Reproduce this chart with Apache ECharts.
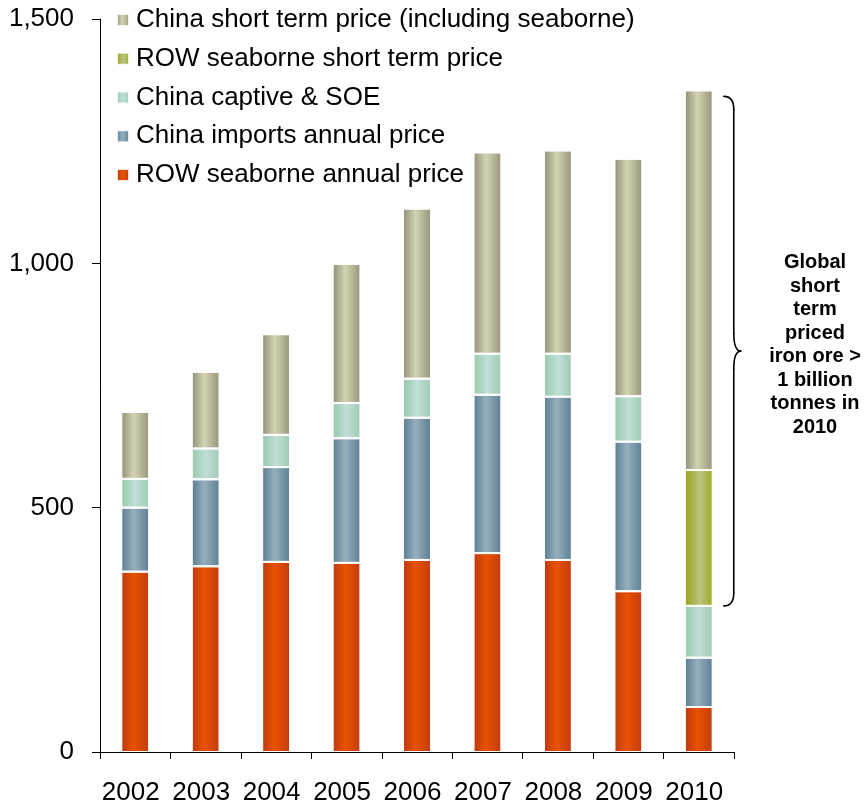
<!DOCTYPE html>
<html>
<head>
<meta charset="utf-8">
<style>
  html, body { margin: 0; padding: 0; background: #ffffff; }
  #chart { width: 865px; height: 806px; }
</style>
<script src="https://cdn.jsdelivr.net/npm/echarts@6/dist/echarts.min.js"></script>
</head>
<body>
<div id="chart"></div>
<script>
// Iron ore volumes by pricing mechanism (Mt)
const years = ['2002', '2003', '2004', '2005', '2006', '2007', '2008', '2009', '2010'];
const rowAnnual    = [369, 380, 389, 387, 393, 407, 393, 329, 92];
const chinaImports = [131, 178, 194, 255, 291, 324, 334, 306, 101];
const chinaCaptive = [59, 63, 66, 72, 80, 84, 88, 93, 106];
const rowShort     = [null, null, null, null, null, null, null, null, 278];
const chinaShort   = [137, 157, 206, 285, 348, 412, 416, 486, 777];
const yTicks = [0, 500, 1000, 1500];

const names = {
  rowAnnual: 'ROW seaborne annual price',
  chinaImports: 'China imports annual price',
  chinaCaptive: 'China captive & SOE',
  rowShort: 'ROW seaborne short term price',
  chinaShort: 'China short term price (including seaborne)'
};

const FONT = '"Liberation Sans", Arial, sans-serif';

// cylinder-like horizontal shading for each segment
function shade(edgeL, mid, edgeR, pos) {
  return new echarts.graphic.LinearGradient(0, 0, 1, 0, [
    { offset: 0, color: edgeL },
    { offset: pos, color: mid },
    { offset: 1, color: edgeR }
  ]);
}

const palette = {
  rowAnnual:    shade('#bd3912', '#e85200', '#c23b10', 0.45),
  chinaImports: shade('#5a7c92', '#96afbc', '#5d7e94', 0.45),
  chinaCaptive: shade('#97c9a8', '#c0dfd8', '#9ecbb2', 0.5),
  rowShort:     shade('#97a217', '#bac37f', '#a0a81f', 0.55),
  chinaShort:   shade('#919078', '#d3d2b1', '#96957c', 0.45)
};

function barSeries(key, data) {
  return {
    name: names[key],
    type: 'bar',
    stack: 'total',
    barWidth: 28,
    data: data,
    itemStyle: {
      color: palette[key],
      borderColor: 'rgba(255,255,255,0.85)',
      borderWidth: 1
    },
    emphasis: { disabled: true }
  };
}

const chart = echarts.init(document.getElementById('chart'), null, { renderer: 'canvas' });

chart.setOption({
  animation: false,
  backgroundColor: '#ffffff',
  textStyle: { fontFamily: FONT },
  grid: { left: 100, top: 19, width: 634, height: 734, containLabel: false },
  legend: {
    orient: 'vertical',
    left: 116,
    top: 7,
    padding: 0,
    itemWidth: 12,
    itemHeight: 12,
    itemGap: 12.75,
    icon: 'rect',
    selectedMode: false,
    textStyle: { fontFamily: FONT, fontSize: 26, lineHeight: 26, color: '#000', padding: [0, 0, 0, 2] },
    data: [names.chinaShort, names.rowShort, names.chinaCaptive, names.chinaImports, names.rowAnnual]
  },
  xAxis: {
    type: 'category',
    data: years,
    boundaryGap: true,
    axisLine: { lineStyle: { color: '#000', width: 1 } },
    axisTick: { show: true, length: 7, lineStyle: { color: '#000' } },
    axisLabel: {
      color: '#000', fontFamily: FONT, fontSize: 26, margin: 28,
      padding: [0, 9, 0, 0], interval: 0
    },
    splitLine: { show: false }
  },
  yAxis: {
    type: 'value',
    min: yTicks[0],
    max: yTicks[yTicks.length - 1],
    interval: yTicks[1] - yTicks[0],
    axisLine: { show: true, lineStyle: { color: '#000', width: 1 } },
    axisTick: { show: true, length: 8, lineStyle: { color: '#000' } },
    axisLabel: {
      color: '#000', fontFamily: FONT, fontSize: 26, margin: 26,
      formatter: v => v.toLocaleString('en-US')
    },
    splitLine: { show: false }
  },
  series: [
    barSeries('rowAnnual', rowAnnual),
    barSeries('chinaImports', chinaImports),
    barSeries('chinaCaptive', chinaCaptive),
    barSeries('rowShort', rowShort),
    barSeries('chinaShort', chinaShort)
  ]
});

// Brace spanning the short-term priced volume of the last year
const last = years.length - 1;
const baseLast = rowAnnual[last] + chinaImports[last] + chinaCaptive[last];
const totalLast = baseLast + (rowShort[last] || 0) + chinaShort[last];
const pTop = chart.convertToPixel({ gridIndex: 0 }, [years[last], totalLast]);
const pBot = chart.convertToPixel({ gridIndex: 0 }, [years[last], baseLast]);

const cx = pTop[0];
const hx = cx + 25, sx = cx + 35, tx = cx + 42;
const y0 = pTop[1] + 6, y1 = pBot[1], ym = (y0 + y1) / 2;
const rEnd = 13, rMid = 18;
const braceStyle = { fill: null, stroke: '#000', lineWidth: 1.6, lineCap: 'round' };

function quad(x1, y1q, cpx, cpy, x2, y2) {
  return { type: 'bezierCurve', silent: true, style: braceStyle,
           shape: { x1: x1, y1: y1q, cpx1: cpx, cpy1: cpy, x2: x2, y2: y2 } };
}
function seg(x1, y1s, x2, y2) {
  return { type: 'line', silent: true, style: braceStyle,
           shape: { x1: x1, y1: y1s, x2: x2, y2: y2 } };
}

chart.setOption({
  graphic: [
    {
      type: 'group',
      silent: true,
      children: [
        quad(hx, y0, sx, y0, sx, y0 + rEnd),
        seg(sx, y0 + rEnd, sx, ym - rMid),
        quad(sx, ym - rMid, sx, ym, tx, ym),
        quad(tx, ym, sx, ym, sx, ym + rMid),
        seg(sx, ym + rMid, sx, y1 - rEnd),
        quad(sx, y1 - rEnd, sx, y1, hx, y1)
      ]
    },
    {
      type: 'text',
      x: 815,
      y: ym - 6,
      silent: true,
      style: {
        text: 'Global\nshort\nterm\npriced\niron ore >\n1 billion\ntonnes in\n2010',
        font: 'bold 20px ' + FONT,
        fill: '#000',
        textAlign: 'center',
        textVerticalAlign: 'middle',
        lineHeight: 23.5
      }
    }
  ]
});
</script>
</body>
</html>
